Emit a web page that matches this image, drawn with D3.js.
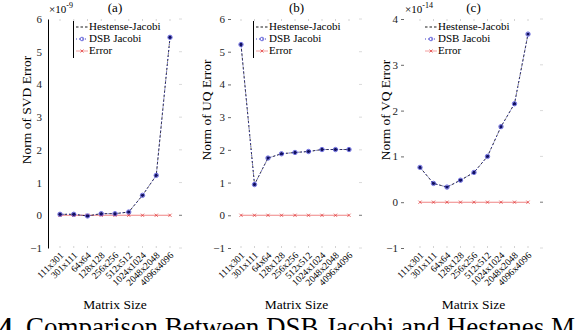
<!DOCTYPE html>
<html>
<head>
<meta charset="utf-8">
<script src="https://cdn.jsdelivr.net/npm/d3@7"></script>
<style>
  body { margin: 0; background: #fff; }
  svg text { font-family: "Liberation Serif", "Times New Roman", "DejaVu Serif", serif; }
</style>
</head>
<body>
<div id="chart"></div>
<script>
// values
const categories = ["111x301", "301x111", "64x64", "128x128", "256x256", "512x512", "1024x1024", "2048x2048", "4096x4096"]
const svdHestenes = [0.03, 0.03, -0.02, 0.05, 0.05, 0.1, 0.61, 1.22, 5.44]   // x 1e-9
const svdDsb = [0.03, 0.03, -0.02, 0.05, 0.05, 0.1, 0.61, 1.22, 5.44]
const svdError = [0, 0, 0, 0, 0, 0, 0, 0, 0]
const uqHestenes = [5.22, 0.94, 1.75, 1.88, 1.92, 1.95, 2.01, 2.01, 2.01]
const uqDsb = [5.22, 0.94, 1.75, 1.88, 1.92, 1.95, 2.01, 2.01, 2.01]
const uqError = [0, 0, 0, 0, 0, 0, 0, 0, 0]
const vqHestenes = [0.76, 0.41, 0.33, 0.48, 0.65, 1.0, 1.65, 2.15, 3.67]     // x 1e-14
const vqDsb = [0.76, 0.41, 0.33, 0.48, 0.65, 1.0, 1.65, 2.15, 3.67]
const vqError = [0, 0, 0, 0, 0, 0, 0, 0, 0]
const yTicksSix = [-1, 0, 1, 2, 3, 4, 5, 6]
const yTicksFour = [-1, 0, 1, 2, 3, 4]
const legendLabels = ["Hestense-Jacobi", "DSB Jacobi", "Error"]

const serif = "'Liberation Serif', 'Times New Roman', 'DejaVu Serif', serif"
const width = 576
const height = 330
const plotTop = 19
const plotBottom = 248

const svg = d3.select("#chart").append("svg")
    .attr("width", width)
    .attr("height", height)
    .attr("font-family", serif)

const panels = [
    { title: "(a)", yLabel: "Norm of SVD Error", exp: "-9", left: 48, right: 182, x0: 60, x1: 170,
      yMax: 6, yTicks: yTicksSix, axisLine: true, labelX: 31, legendX: 73, legendBorder: true,
      series: [svdHestenes, svdDsb, svdError] },
    { title: "(b)", yLabel: "Norm of UQ Error", exp: null, left: 231, right: 362, x0: 241, x1: 349,
      yMax: 6, yTicks: yTicksSix, axisLine: false, labelX: 211, legendX: 253, legendBorder: true,
      series: [uqHestenes, uqDsb, uqError] },
    { title: "(c)", yLabel: "Norm of VQ Error", exp: "-14", left: 404, right: 543, x0: 420, x1: 528,
      yMax: 4, yTicks: yTicksFour, axisLine: false, labelX: 390, legendX: 422, legendBorder: false,
      series: [vqHestenes, vqDsb, vqError] }
]

function drawPanel(p) {
    const g = svg.append("g")
    const x = d3.scalePoint().domain(categories).range([p.x0, p.x1])
    const y = d3.scaleLinear().domain([-1, p.yMax]).range([plotBottom, plotTop])
    const mid = (p.left + p.right) / 2

    // faint box ticks
    categories.forEach(c => {
        g.append("line").attr("x1", x(c)).attr("x2", x(c)).attr("y1", plotTop).attr("y2", plotTop + 2)
            .style("stroke", "#c8c8c8").style("stroke-width", 0.8)
        g.append("line").attr("x1", x(c)).attr("x2", x(c)).attr("y1", plotBottom).attr("y2", plotBottom - 2)
            .style("stroke", "#c8c8c8").style("stroke-width", 0.8)
    })
    p.yTicks.forEach(t => {
        g.append("line").attr("x1", p.right).attr("x2", p.right - 3).attr("y1", y(t)).attr("y2", y(t))
            .style("stroke", t === 0 ? "#555" : "#d0d0d0").style("stroke-width", 0.8)
    })

    // left axis
    const axis = g.append("g")
        .attr("transform", `translate(${p.left},0)`)
        .call(d3.axisLeft(y).tickValues(p.yTicks).tickFormat(d3.format("d")).tickSize(p.axisLine ? 0 : 3).tickPadding(p.axisLine ? 6 : 3))
    axis.attr("font-family", serif)
    axis.select(".domain").style("stroke", p.axisLine ? "#000" : "none")
    axis.selectAll(".tick line").style("stroke", "#444").style("stroke-width", 0.8)
    axis.selectAll("text").style("font-size", "11px").attr("fill", "#222")

    // x tick labels
    categories.forEach(c => {
        g.append("text").text(c)
            .attr("transform", `translate(${x(c) + 4},${plotBottom + 8}) rotate(-45)`)
            .attr("text-anchor", "end")
            .style("font-size", "9.5px")
    })

    g.append("text").text("Matrix Size")
        .attr("x", mid).attr("y", 309).attr("text-anchor", "middle").style("font-size", "13.5px")
    g.append("text").text(p.title)
        .attr("x", mid).attr("y", 12).attr("text-anchor", "middle").style("font-size", "13px")
    g.append("text").text(p.yLabel)
        .attr("transform", `translate(${p.labelX},110) rotate(-90)`)
        .attr("text-anchor", "middle").style("font-size", "13.5px")

    if (p.exp) {
        const e = g.append("text").attr("x", p.left + 1).attr("y", 13).style("font-size", "11px")
        e.append("tspan").text("×10")
        e.append("tspan").text(p.exp).attr("dy", -5).style("font-size", "8px")
    }

    const line = d3.line().x((d, i) => x(categories[i])).y(d => y(d))
    const [hest, dsb, err] = p.series

    // Error: red line with x markers
    g.append("path").datum(err).attr("d", line)
        .style("fill", "none").style("stroke", "#ef8585").style("stroke-width", 1.1)
    err.forEach((d, i) => {
        const cx = x(categories[i]), cy = y(d)
        g.append("path").attr("d", `M${cx - 1.6},${cy - 1.6}L${cx + 1.6},${cy + 1.6}M${cx - 1.6},${cy + 1.6}L${cx + 1.6},${cy - 1.6}`)
            .style("stroke", "#e03030").style("stroke-width", 0.7)
    })

    // Hestenes-Jacobi: black dashed
    g.append("path").datum(hest).attr("d", line)
        .style("fill", "none").style("stroke", "#000").style("stroke-width", 0.8).style("stroke-dasharray", "2.5,2")
    // DSB Jacobi: blue dotted with circles
    g.append("path").datum(dsb).attr("d", line)
        .style("fill", "none").style("stroke", "#3030c0").style("stroke-width", 0.8).style("stroke-dasharray", "1,2")
    g.selectAll(".hest-pt").data(hest).enter().append("circle")
        .attr("cx", (d, i) => x(categories[i])).attr("cy", d => y(d)).attr("r", 1.7)
        .style("fill", "#101060")
    g.selectAll(".dsb-pt").data(dsb).enter().append("circle")
        .attr("cx", (d, i) => x(categories[i])).attr("cy", d => y(d)).attr("r", 2.2)
        .style("fill", "none").style("stroke", "#3434d0").style("stroke-width", 0.7)

    // legend
    const lg = g.append("g").attr("transform", `translate(${p.legendX},0)`)
    lg.append("rect").attr("x", 0).attr("y", 21).attr("width", 86).attr("height", 38).style("fill", "#fff")
    if (p.legendBorder) {
        lg.append("line").attr("x1", 0.5).attr("x2", 0.5).attr("y1", 21).attr("y2", 58).style("stroke", "#000").style("stroke-width", 1)
    }
    const rowY = [30, 42, 54]
    lg.append("line").attr("x1", 3).attr("x2", 15).attr("y1", rowY[0] - 3).attr("y2", rowY[0] - 3)
        .style("stroke", "#000").style("stroke-width", 0.9).style("stroke-dasharray", "2.5,2")
    lg.append("line").attr("x1", 3).attr("x2", 15).attr("y1", rowY[1] - 3).attr("y2", rowY[1] - 3)
        .style("stroke", "#3030c0").style("stroke-width", 0.9).style("stroke-dasharray", "1,2")
    lg.append("circle").attr("cx", 9).attr("cy", rowY[1] - 3).attr("r", 1.8)
        .style("fill", "none").style("stroke", "#3434d0").style("stroke-width", 0.7)
    lg.append("line").attr("x1", 3).attr("x2", 15).attr("y1", rowY[2] - 3).attr("y2", rowY[2] - 3)
        .style("stroke", "#f4a0a0").style("stroke-width", 1)
    lg.append("path").attr("d", `M7.5,${rowY[2] - 4.5}L10.5,${rowY[2] - 1.5}M7.5,${rowY[2] - 1.5}L10.5,${rowY[2] - 4.5}`)
        .style("stroke", "#e03030").style("stroke-width", 0.7)
    legendLabels.forEach((l, i) => {
        lg.append("text").text(l).attr("x", 16).attr("y", rowY[i]).style("font-size", "11px")
    })
}

panels.forEach(drawPanel)

// figure caption, cut off by the crop
const caption = svg.append("text").attr("x", -1).attr("y", 336).style("font-size", "27px")
caption.append("tspan").text("4.").style("font-weight", "bold")
caption.append("tspan").text(" Comparison Between DSB Jacobi and Hestenes M")
</script>
</body>
</html>
